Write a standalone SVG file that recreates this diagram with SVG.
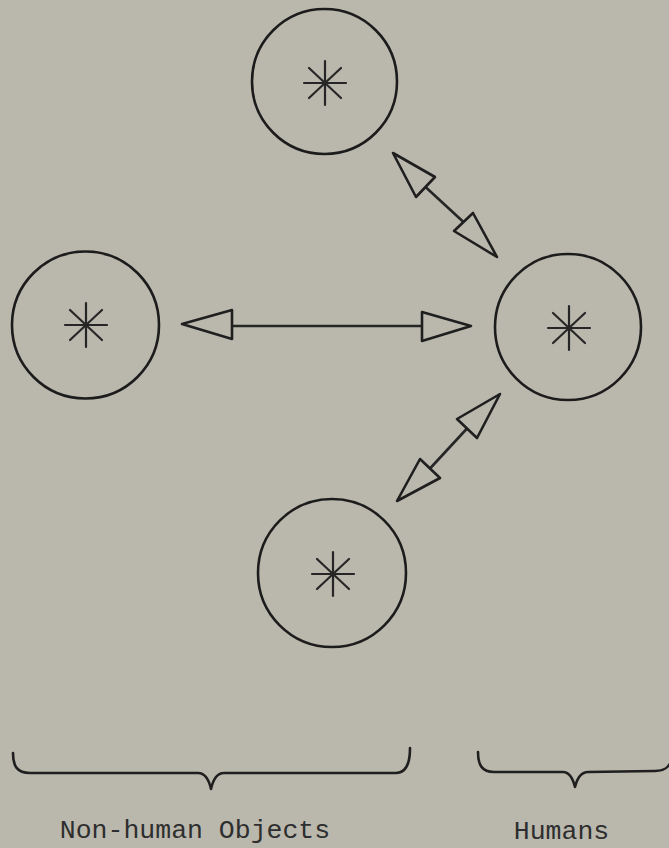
<svg xmlns="http://www.w3.org/2000/svg" width="669" height="848" viewBox="0 0 669 848">
<defs>
<style>
.ring{fill:none;stroke:#1c1c1c;stroke-width:2.6}
.star{stroke:#262626;stroke-width:2.2;stroke-linecap:round}
.shaft{stroke:#262626;stroke-width:2.6;fill:none}
.head{fill:#bab8ad;stroke:#1f1f1f;stroke-width:2.6;stroke-linejoin:round}
.brace{fill:none;stroke:#1f1f1f;stroke-width:2.6;stroke-linejoin:round;stroke-linecap:round}
.lbl{font-family:"Liberation Mono","DejaVu Sans Mono",monospace;font-size:26.5px;fill:#2e2e2e;text-anchor:middle}
</style>
<g id="ast">
<line class="star" x1="-21" y1="0" x2="21" y2="0"/>
<line class="star" x1="0" y1="-22" x2="0" y2="22"/>
<line class="star" x1="-16" y1="-15" x2="16" y2="15"/>
<line class="star" x1="-16" y1="15" x2="16" y2="-15"/>
</g>
</defs>
<rect width="669" height="848" fill="#bab8ad"/>
<g id="node-top">
<circle class="ring" cx="324.5" cy="81.5" r="72.5"/>
<use href="#ast" x="325" y="83"/>
</g>
<g id="node-left">
<circle class="ring" cx="85.5" cy="325" r="73.5"/>
<use href="#ast" x="86" y="325"/>
</g>
<g id="node-right">
<circle class="ring" cx="568" cy="327" r="73"/>
<use href="#ast" x="569" y="328"/>
</g>
<g id="node-bottom">
<circle class="ring" cx="332" cy="573" r="74"/>
<use href="#ast" x="333" y="574"/>
</g>
<g id="connectors">
<line class="shaft" x1="232" y1="326" x2="422" y2="326"/>
<polygon class="head" points="182,324 232,310 232,339"/>
<polygon class="head" points="471,326 422,312 422,341"/>
<line class="shaft" x1="425.5" y1="187" x2="463.5" y2="222"/>
<polygon class="head" points="393,153 416,197 435,177"/>
<polygon class="head" points="497,257 454,231 473,213"/>
<line class="shaft" x1="467" y1="428.5" x2="430" y2="468.5"/>
<polygon class="head" points="500,394 457,419 477,438"/>
<polygon class="head" points="397,501 420,459 440,478"/>
</g>
<g id="brace-nonhuman">
<path class="brace" d="M13,753 C13,766 17,773 30,773 L198,773 C205,773 209,780 211,789 C213,780 217,773 224,773 L396,773 C406,773 410,764 410,748"/>
<text class="lbl" x="195" y="838">Non-human Objects</text>
</g>
<g id="brace-humans">
<path class="brace" d="M478,752 C478,765 482,772 494,772 L563,772 C570,772 573,779 575,787 C577,779 581,772 588,772 L655,771 C664,771 668,768 671,762"/>
<text class="lbl" x="561.5" y="839">Humans</text>
</g>
</svg>
